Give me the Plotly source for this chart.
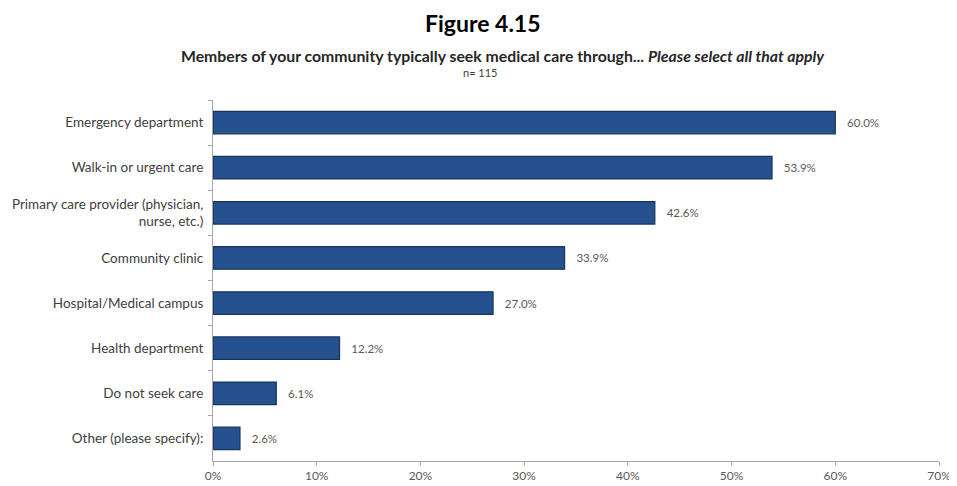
import plotly.graph_objects as go

categories = [
    "Emergency department",
    "Walk-in or urgent care",
    "Primary care provider (physician,<br>nurse, etc.)",
    "Community clinic",
    "Hospital/Medical campus",
    "Health department",
    "Do not seek care",
    "Other (please specify):",
]
values = [60.0, 53.9, 42.6, 33.9, 27.0, 12.2, 6.1, 2.6]
tick_vals = [0, 10, 20, 30, 40, 50, 60, 70]
tick_text = ["0%", "10%", "20%", "30%", "40%", "50%", "60%", "70%"]

FONT = "Lato, 'Open Sans', sans-serif"
OFF = 8  # default page body margin
W, H = 957 - OFF, 486 - OFF
ML, MR, MT, MB = 213 - OFF, 18, 100 - OFF, 25

fig = go.Figure(go.Bar(
    x=values,
    y=categories,
    orientation="h",
    marker=dict(color="#25528F", line=dict(color="#16345C", width=1.2)),
    texttemplate="   %{x:.1f}%",
    textposition="outside",
    textfont=dict(color="#595959", size=11.5, family=FONT),
    cliponaxis=False,
    width=0.5,
))

plot_w = W - ML - MR
plot_h = H - MT - MB
def px(pix):
    return (pix - OFF - ML) / plot_w
def py(pix):
    return (H - MB - (pix - OFF)) / plot_h

fig.update_layout(
    width=W, height=H,
    margin=dict(l=ML, r=MR, t=MT, b=MB, autoexpand=False),
    plot_bgcolor="white", paper_bgcolor="white",
    showlegend=False,
    font=dict(family=FONT, color="#404040"),
    annotations=[
        dict(text="<b>Figure 4.15</b>", x=px(483), xref="paper",
             y=py(23), yref="paper", showarrow=False, xanchor="center", yanchor="middle",
             font=dict(size=23, color="#000000", family=FONT)),
        dict(text="<b>Members of your community typically seek medical care through... <i>Please select all that apply</i></b>",
             x=px(503), xref="paper", y=py(55), yref="paper",
             showarrow=False, xanchor="center", yanchor="middle",
             font=dict(size=15.8, color="#262626", family=FONT)),
        dict(text="n= 115", x=px(480), xref="paper", y=py(72), yref="paper",
             showarrow=False, xanchor="center", yanchor="middle",
             font=dict(size=11, color="#404040", family=FONT)),
    ],
)

fig.update_xaxes(
    range=[0, 70], tickvals=tick_vals, ticktext=tick_text,
    showgrid=False, zeroline=False, automargin=False,
    showline=True, linecolor="#A6A6A6", linewidth=1,
    ticks="outside", tickcolor="#A6A6A6", ticklen=4,
    tickfont=dict(size=12, color="#595959", family=FONT),
)
fig.update_yaxes(
    autorange="reversed", automargin=False,
    showgrid=False, zeroline=False,
    showline=True, linecolor="#A6A6A6", linewidth=1,
    ticks="outside", tickson="boundaries", tickcolor="#A6A6A6", ticklen=4,
    ticklabelstandoff=6,
    tickfont=dict(size=13.5, color="#404040", family=FONT),
)

fig.write_html("out.html")
